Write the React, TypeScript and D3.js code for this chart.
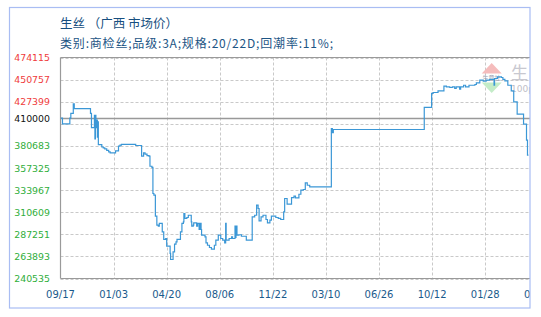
import React from "react";
import * as d3 from "d3";

const dates: string[] = [
  "2015-09-17","2015-09-21","2015-10-06","2015-10-08","2015-10-13","2015-10-15","2015-11-17","2015-11-19",
  "2015-11-25","2015-11-26","2015-11-27","2015-11-28","2015-11-30","2015-12-01","2015-12-02","2015-12-03",
  "2015-12-10","2015-12-13","2015-12-16","2015-12-20","2015-12-24","2015-12-27","2016-01-07","2016-01-13",
  "2016-01-16","2016-01-19","2016-02-17","2016-02-29","2016-03-04","2016-03-07","2016-03-11","2016-03-15",
  "2016-03-17","2016-03-21","2016-03-23","2016-03-25","2016-03-28","2016-03-31","2016-04-03","2016-04-05",
  "2016-04-11","2016-04-14","2016-04-18","2016-04-20","2016-04-27","2016-04-28","2016-05-03","2016-05-06",
  "2016-05-09","2016-05-11","2016-05-18","2016-05-21","2016-05-24","2016-05-25","2016-05-27","2016-05-31",
  "2016-06-03","2016-06-09","2016-06-10","2016-06-13","2016-06-14","2016-06-20","2016-06-22","2016-06-25",
  "2016-06-27","2016-06-29","2016-06-30","2016-07-07","2016-07-09","2016-07-12","2016-07-16","2016-07-20",
  "2016-07-26","2016-07-29","2016-08-03","2016-08-08","2016-08-12","2016-08-16","2016-08-18","2016-08-19",
  "2016-08-25","2016-08-30","2016-09-01","2016-09-06","2016-09-07","2016-09-08","2016-09-10","2016-09-14",
  "2016-09-19","2016-09-29","2016-10-11","2016-10-16","2016-10-20","2016-10-23","2016-10-25","2016-10-29",
  "2016-11-02","2016-11-08","2016-11-11","2016-11-16","2016-11-19","2016-11-28","2016-12-03","2016-12-08",
  "2016-12-14","2016-12-16","2016-12-21","2016-12-30","2017-01-04","2017-01-07","2017-01-14","2017-01-18",
  "2017-01-23","2017-01-27","2017-01-31","2017-02-05","2017-03-21","2017-03-23","2017-03-25","2017-09-26",
  "2017-10-11","2017-10-14","2017-10-24","2017-11-05","2017-11-10","2017-11-17","2017-11-22","2017-11-27",
  "2017-11-30","2017-12-07","2017-12-09","2017-12-15","2017-12-19","2017-12-26","2018-01-07","2018-01-10",
  "2018-01-17","2018-01-24","2018-01-30","2018-02-06","2018-02-15","2018-02-16","2018-02-22","2018-03-02",
  "2018-03-05","2018-03-09","2018-03-15","2018-03-22","2018-03-27","2018-04-03","2018-04-16","2018-04-22",
  "2018-04-24","2018-04-26"
];

const prices: number[] = [
  410000,404000,410000,415000,425000,420000,415000,400000,
  413000,388000,413000,400000,408000,390000,406000,382000,
  379500,378500,377500,376000,374300,373300,375400,380400,
  381400,382200,381100,369800,373300,371900,370500,369800,
  359200,357900,330400,328600,306400,296900,295800,298700,
  289800,281800,282800,274700,267000,260600,268700,276800,
  279200,281800,289800,298700,300400,309200,304000,305000,
  307400,300400,295800,296900,299300,295800,298700,292300,
  298700,292300,286300,284500,278200,275700,273300,271500,
  275700,281000,286300,282800,281000,278200,298700,281000,
  282800,284500,282800,295800,284000,295800,286300,286800,
  285200,281000,305600,307400,318000,314500,301400,305600,
  307400,302900,299300,302200,306400,305000,304000,302900,
  310900,325100,319100,326100,327500,325700,329600,333900,
  334600,341600,339100,337400,399100,394800,398000,421300,
  436100,437100,438800,443800,443000,442400,443000,441400,
  443000,440600,443000,444800,443000,444800,445600,447300,
  450100,449100,450100,450900,444800,451900,453600,453000,
  450900,449400,444800,438800,427200,414200,403600,386700,
  371000,371000
];

const xTickDates: string[] = [
  "2015-09-17","2016-01-03","2016-04-20","2016-08-06","2016-11-22",
  "2017-03-10","2017-06-26","2017-10-12","2018-01-28","2018-05-16"
];

const gridValues: number[] = [
  240535,263893,287251,310609,333967,357325,380683,404041,427399,450757,474115
];
const yLabelValues: number[] = [
  240535,263893,287251,310609,333967,357325,380683,410000,427399,450757,474115
];
const referenceValue = 410000;

const titleText = "生丝 （广西 市场价）";
const subtitleText = "类别:商检丝;品级:3A;规格:20/22D;回潮率:11%;";

const parse = d3.timeParse("%Y-%m-%d");
const fmt = d3.timeFormat("%m/%d");

export default function App() {
  const W = 541, H = 317;
  const left = 60.5, right = 530, top = 57.5, bottom = 278.5;

  const x = d3.scaleTime()
    .domain([parse("2015-09-17")!, parse("2018-05-16")!])
    .range([left, 538.3]);
  const y = d3.scaleLinear().domain([240535, 474115]).range([bottom, top]);

  const data = dates.map((d, i) => ({ date: parse(d)!, v: prices[i] }));
  const line = d3.line<{ date: Date; v: number }>()
    .x(d => x(d.date))
    .y(d => y(d.v))
    .curve(d3.curveStepAfter);

  const labelColor = (v: number) =>
    v > referenceValue ? "#ef3b3b" : v < referenceValue ? "#2fae3a" : "#111111";

  return (
    <svg width={W} height={H} style={{ position: "absolute", left: 0, top: 0 }}
      xmlns="http://www.w3.org/2000/svg">
      <defs>
        <clipPath id="frame">
          <rect x={0} y={0} width={right} height={H} />
        </clipPath>
        <clipPath id="plot">
          <rect x={left} y={top - 3} width={right - left} height={bottom - top + 6} />
        </clipPath>
      </defs>
      <rect x={0} y={0} width={W} height={H} fill="#fff" />
      {/* title */}
      <text x={60} y={28} fontFamily="'Noto Sans CJK SC', sans-serif" fontSize={12.5} fill="#174f80">
        {titleText}
      </text>
      <text x={60} y={48} fontFamily="'Noto Sans CJK SC', sans-serif" fontSize={12} fill="#1c5585"
        textLength={273} lengthAdjust="spacing">
        {subtitleText}
      </text>

      {/* grid */}
      <g stroke="#c9c9c9" strokeDasharray="3,2" strokeWidth={1}>
        {gridValues.map(v => (
          <line key={"h" + v} x1={left} x2={right} y1={Math.round(y(v)) + 0.5} y2={Math.round(y(v)) + 0.5} />
        ))}
        {xTickDates.map(d => {
          const xp = Math.round(x(parse(d)!)) + 0.5;
          if (xp <= left + 1 || xp >= right) return null;
          return <line key={"v" + d} x1={xp} x2={xp} y1={top} y2={bottom} />;
        })}
      </g>

      {/* watermark */}
      <g clipPath="url(#frame)">
        <polygon points="491.7,63 481.7,73.5 501.7,73.5" fill="#f5bcbc" />
        <polygon points="481.7,82.5 501.7,82.5 491.7,93" fill="#c4ecc8" />
        <text x={491.5} y={79.5} textAnchor="middle" fontSize={6} fontFamily="'Noto Sans CJK SC', sans-serif" fill="#9aa0b0">生意社</text>
        <text x={511} y={79} fontSize={17} fontFamily="'Noto Sans CJK SC', sans-serif" fill="#c8c8d0">生</text>
        <text x={511} y={92} fontSize={9} fontFamily="'DejaVu Sans', sans-serif" fill="#c0c0c8">100ppi</text>
      </g>

      {/* reference line */}
      <line x1={left} x2={right} y1={Math.round(y(referenceValue)) + 0.5} y2={Math.round(y(referenceValue)) + 0.5}
        stroke="#999" strokeWidth={1.3} />

      {/* plot frame */}
      <g stroke="#9a9a9a" strokeWidth={1.2} fill="none">
        <line x1={left} x2={left} y1={top} y2={bottom} />
        <line x1={left} x2={right} y1={bottom} y2={bottom} />
        <line x1={left} x2={right} y1={top} y2={top} />
      </g>

      {/* series */}
      <path d={line(data) || ""} fill="none" stroke="#3b97d6" strokeWidth={1.2} clipPath="url(#plot)" />

      {/* y labels */}
      <g fontFamily="'DejaVu Sans', sans-serif" fontSize={9.4} textAnchor="end">
        {yLabelValues.map(v => (
          <text key={v} x={50} y={y(v) + 3.5} fill={labelColor(v)}>{String(v)}</text>
        ))}
      </g>

      {/* x labels */}
      <g fontFamily="'DejaVu Sans', sans-serif" fontSize={10} textAnchor="middle" fill="#1a5a8c" clipPath="url(#frame)">
        {xTickDates.map(d => (
          <text key={d} x={x(parse(d)!)} y={298}>{fmt(parse(d)!)}</text>
        ))}
      </g>

      {/* outer border */}
      <rect x={9.5} y={7.5} width={520.5} height={300.5} fill="none" stroke="#a9bdf3" strokeWidth={1.2} />
    </svg>
  );
}
